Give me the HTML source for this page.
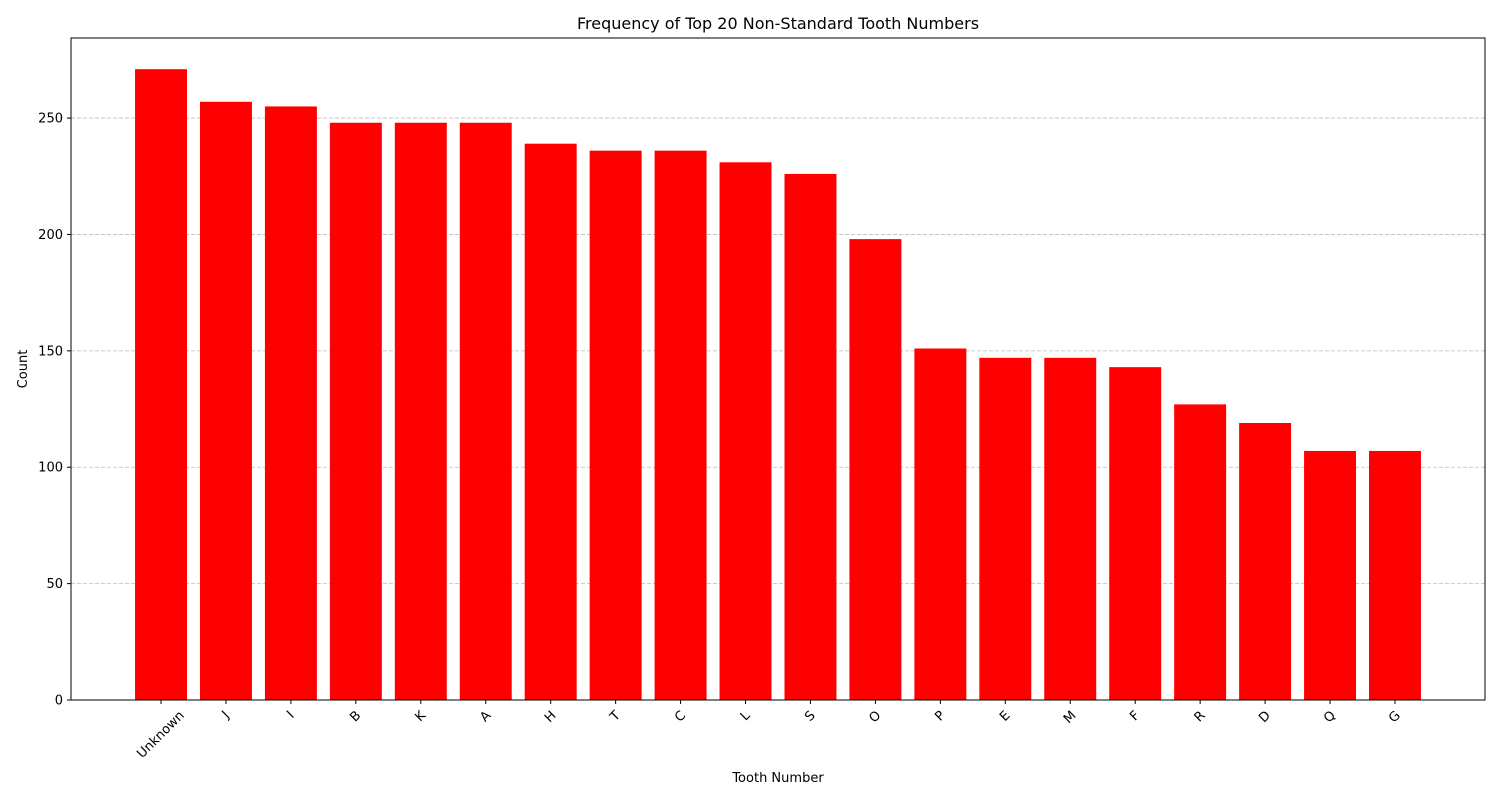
<!DOCTYPE html>
<html><head><meta charset="utf-8"><style>
body{margin:0;background:#fff;font-family:"Liberation Sans","DejaVu Sans",sans-serif;}
svg text{font-family:"DejaVu Sans","Liberation Sans",sans-serif;}
</style></head><body>
<svg id="chart" width="1500" height="800" xmlns="http://www.w3.org/2000/svg">
<text x="778" y="29" font-size="16" text-anchor="middle">Frequency of Top 20 Non-Standard Tooth Numbers</text>
<g id="grid"></g><g id="bars"></g><g id="axes"></g>
<text x="778" y="782" font-size="13" text-anchor="middle">Tooth Number</text>
<text x="27" y="369" font-size="13" text-anchor="middle" transform="rotate(-90 27 369)">Count</text>
</svg>
<script>
const categories=["Unknown","J","I","B","K","A","H","T","C","L","S","O","P","E","M","F","R","D","Q","G"];
const counts=[271,257,255,248,248,248,239,236,236,231,226,198,151,147,147,143,127,119,107,107];
const yTicks=[0,50,100,150,200,250];
const NS="http://www.w3.org/2000/svg";
const L=71,R=1485,T=38,B=700,yMax=284.4;
const step=(R-L)/(categories.length-1+2*1.386);
const x=i=>L+(i+1.386)*step;
const y=v=>B-v/yMax*(B-T);
function mk(tag,attrs,parent){const e=document.createElementNS(NS,tag);for(const k in attrs)e.setAttribute(k,attrs[k]);parent.appendChild(e);return e;}
const grid=document.getElementById('grid'),bars=document.getElementById('bars'),axes=document.getElementById('axes');
yTicks.forEach(t=>{
 if(t>0){const g=mk('line',{x1:L,x2:R,y1:y(t),y2:y(t),stroke:'#bcbcbc','stroke-dasharray':'4,2','stroke-width':0.8},grid);
 
 }
 const tk=mk('line',{x1:L-4,x2:L,y1:y(t),y2:y(t),stroke:'#000'},axes);
 
 
 const tx=mk('text',{x:L-8,y:y(t)+4.5,'font-size':13,'text-anchor':'end'},axes);tx.textContent=t;
 
 
});
const bw=step*0.8;
categories.forEach((c,i)=>{
 const r=mk('rect',{x:x(i)-bw/2,y:y(counts[i]),width:bw,height:B-y(counts[i]),fill:'#ff0000'},bars);
 
 
 const tk=mk('line',{x1:x(i),x2:x(i),y1:B,y2:B+4,stroke:'#000'},axes);
 
 
 const tx=mk('text',{x:0,y:0,'font-size':13,'text-anchor':'middle','dominant-baseline':'central'},axes);tx.textContent=c;
 
 
 const w=tx.getComputedTextLength();
 const half=(w+13)*Math.SQRT1_2/2;
 const cy=B+9+half;
 tx.setAttribute('transform',`translate(${x(i)} ${cy}) rotate(-45)`);
});
const f=mk('rect',{x:L,y:T,width:R-L,height:B-T,fill:'none',stroke:'#000','stroke-width':1},axes);


</script>
</body></html>
